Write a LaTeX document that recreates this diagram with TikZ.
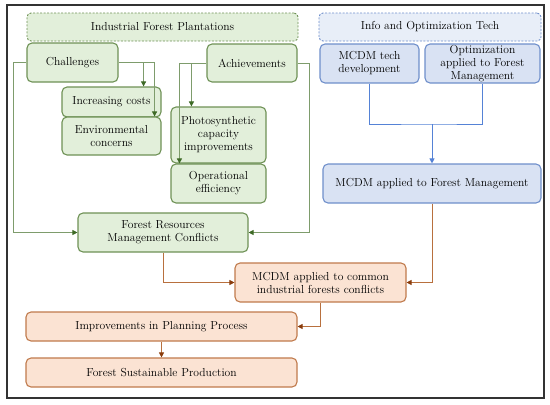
\documentclass[tikz,border=0pt]{standalone}
\usepackage{mathpazo}
\usetikzlibrary{arrows.meta}

\definecolor{gfill}{HTML}{E2EFDA}
\definecolor{gdraw}{HTML}{6E9155}
\definecolor{gline}{HTML}{7E9C6C}
\definecolor{gtip}{HTML}{3E6A26}
\definecolor{bfill}{HTML}{D9E2F3}
\definecolor{bdraw}{HTML}{6F8FCB}
\definecolor{bline}{HTML}{5582D6}
\definecolor{ofill}{HTML}{FBE3D3}
\definecolor{odraw}{HTML}{C07A4C}
\definecolor{oline}{HTML}{B8703E}
\definecolor{otip}{HTML}{8A3C0C}

\tikzset{
  box/.style={rectangle, rounded corners=5pt, line width=1.1pt, align=center,
    font=\fontsize{11.6}{13}\selectfont, inner sep=1pt},
  gbox/.style={box, fill=gfill, draw=gdraw},
  bbox/.style={box, fill=bfill, draw=bdraw},
  obox/.style={box, fill=ofill, draw=odraw},
  gtitle/.style={box, fill=gfill, draw=gdraw, dash pattern=on 2pt off 1.5pt, line width=0.9pt, rounded corners=4pt},
  btitle/.style={box, fill=bfill!60, draw=bdraw, dash pattern=on 2pt off 1.5pt, line width=0.9pt, rounded corners=4pt},
  gwire/.style={gline, line width=1pt, -{Triangle[length=5pt,width=5pt,color=gtip]}},
  bwire/.style={bline, line width=1pt},
  owire/.style={oline, line width=1pt, -{Triangle[length=5pt,width=5pt,color=otip]}}
}

\begin{document}
\begin{tikzpicture}[x=1pt,y=-1pt]
\useasboundingbox (0,0) rectangle (550,405);
\draw[black!80, line width=1.4pt] (7,5) rectangle (544,398);

% upper groups
\node[gtitle, minimum width=271pt, minimum height=28pt] (ifp) at (162.5,27) {Industrial Forest Plantations};
\node[btitle, minimum width=222pt, minimum height=28pt] (iot) at (430,27) {Info and Optimization Tech};

\node[gbox, minimum width=91pt, minimum height=39pt] (chal) at (72.5,62.5) {Challenges};
\node[gbox, minimum width=90pt, minimum height=38pt] (achv) at (252,63) {Achievements};
\node[gbox, minimum width=99pt, minimum height=30pt] (cost) at (111.5,102) {Increasing costs};
\node[gbox, minimum width=99pt, minimum height=38pt] (env) at (111.5,136) {Environmental\\concerns};
\node[gbox, minimum width=95pt, minimum height=56pt] (photo) at (218.5,135) {Photosynthetic\\capacity\\improvements};
\node[gbox, minimum width=95pt, minimum height=39pt] (oper) at (218.5,183.5) {Operational\\efficiency};

\node[bbox, minimum width=99pt, minimum height=39pt] (mtd) at (369.5,63.5) {MCDM tech\\development};
\node[bbox, minimum width=115pt, minimum height=39pt] (opt) at (482.5,63.5) {Optimization\\applied to Forest\\Management};
\node[bbox, minimum width=218pt, minimum height=39pt] (mfm) at (432,183.5) {MCDM applied to Forest Management};

% lower chain
\node[gbox, minimum width=170pt, minimum height=39pt] (frmc) at (163,232.5) {Forest Resources\\Management Conflicts};
\node[obox, minimum width=171pt, minimum height=39pt] (mcc) at (320.5,282.5) {MCDM applied to common\\industrial forests conflicts};
\node[obox, minimum width=271pt, minimum height=29pt] (ipp) at (161.5,326.5) {Improvements in Planning Process};
\node[obox, minimum width=271pt, minimum height=29pt] (fsp) at (161.5,372.5) {Forest Sustainable Production};

% green links
\draw[gwire] (chal.east) -| ([xshift=-7pt]env.north east);
\draw[gwire] ([xshift=-18pt]cost.north east |- chal.east) -- ([xshift=-18pt]cost.north east);
\draw[gwire] (achv.west) -| ([xshift=9pt]oper.north west);
\draw[gwire] ([xshift=21pt]photo.north west |- achv.west) -- ([xshift=21pt]photo.north west);
\draw[gwire] (chal.west) -- ++(-13,0) |- (frmc.west);
\draw[gwire] (achv.east) -- ++(12,0) |- (frmc.east);

% blue links
\coordinate (bj) at (432,124);
\draw[bwire] (mtd.south) |- (bj) -| (opt.south);
\draw[bwire, -{Triangle[length=5pt,width=5pt]}] (bj) -- (mfm.north);

% orange links
\draw[owire] (frmc.south) |- (mcc.west);
\draw[owire] (mfm.south) |- (mcc.east);
\draw[owire] (mcc.south) |- (ipp.east);
\draw[owire] (ipp.south) -- (fsp.north);
\end{tikzpicture}
\end{document}
